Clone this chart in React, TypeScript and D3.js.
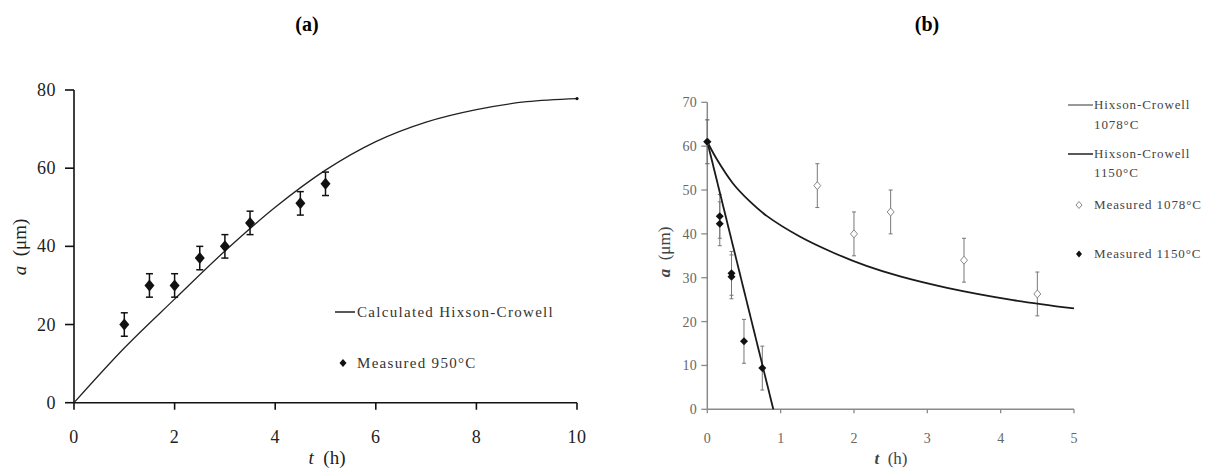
import React from 'react';
import * as d3 from 'd3';

// ---------- Panel (a) data ----------
const aCurveT = [0, 1, 2, 3, 4, 5, 6, 7, 8, 9, 10];
const aCurveV = [0, 14, 26.5, 38.8, 50, 59.5, 66.8, 71.8, 75, 77, 77.8];
const aMeasT = [1, 1.5, 2, 2.5, 3, 3.5, 4.5, 5];
const aMeasV = [20, 30, 30, 37, 40, 46, 51, 56];
const aErr = 3;
const aXTicks = [0, 2, 4, 6, 8, 10];
const aYTicks = [0, 20, 40, 60, 80];

// ---------- Panel (b) data ----------
const bCurve1078T = [0, 0.13, 0.35, 0.58, 0.81, 1.26, 1.72, 2.17, 2.63, 3.27, 4.17, 5];
const bCurve1078V = [61, 57, 51.5, 47.4, 44.1, 39.4, 35.7, 32.7, 30.3, 27.7, 24.9, 23.0];
const bCurve1150T = [0, 0.9];
const bCurve1150V = [61, 0];
const bMeas1078T = [0, 1.5, 2, 2.5, 3.5, 4.5];
const bMeas1078V = [61, 51, 40, 45, 34, 26.3];
const bMeas1150T = [0, 0.17, 0.17, 0.33, 0.33, 0.5, 0.75];
const bMeas1150V = [61, 44, 42.3, 31, 30.2, 15.5, 9.4];
const bErr = 5;
const bXTicks = [0, 1, 2, 3, 4, 5];
const bYTicks = [0, 10, 20, 30, 40, 50, 60, 70];

const SERIF = '"Liberation Serif", "Times New Roman", serif';

function diamondPath(cx: number, cy: number, w: number, h: number) {
  return `M${cx},${cy - h / 2}L${cx + w / 2},${cy}L${cx},${cy + h / 2}L${cx - w / 2},${cy}Z`;
}

function PanelA() {
  const x = d3.scaleLinear().domain([0, 10]).range([74, 577]);
  const y = d3.scaleLinear().domain([0, 80]).range([402.7, 90]);
  const pts = aCurveT.map((t, i) => [t, aCurveV[i]] as [number, number]);
  const line = d3
    .line<[number, number]>()
    .x((d) => x(d[0]))
    .y((d) => y(d[1]))
    .curve(d3.curveMonotoneX);
  const col = '#111';
  return (
    <g fontFamily={SERIF}>
      <text x={307} y={31} textAnchor="middle" fontSize={20} fontWeight="bold" fill="#000">(a)</text>
      {/* axes */}
      <line x1={x(0)} x2={x(10)} y1={y(0)} y2={y(0)} stroke={col} strokeWidth={1.6} />
      <line x1={x(0)} x2={x(0)} y1={y(0)} y2={y(80)} stroke={col} strokeWidth={1.6} />
      {aXTicks.map((t) => (
        <g key={'ax' + t}>
          <line x1={x(t)} x2={x(t)} y1={y(0)} y2={y(0) + 7} stroke={col} strokeWidth={1.6} />
          <text x={x(t)} y={443} textAnchor="middle" fontSize={18} letterSpacing={0.5} fill="#222">{t}</text>
        </g>
      ))}
      {aYTicks.map((v) => (
        <g key={'ay' + v}>
          <line x1={x(0) - 9} x2={x(0)} y1={y(v)} y2={y(v)} stroke={col} strokeWidth={1.6} />
          <text x={56} y={y(v) + 6} textAnchor="end" fontSize={18} letterSpacing={0.5} fill="#222">{v}</text>
        </g>
      ))}
      <text x={327} y={464} textAnchor="middle" fontSize={19} fill="#222">
        <tspan fontStyle="italic">t</tspan>
        <tspan>{'\u00a0\u00a0(h)'}</tspan>
      </text>
      <text transform="translate(26,247) rotate(-90)" textAnchor="middle" fontSize={19} fill="#222">
        <tspan fontStyle="italic">a</tspan>
        <tspan>{'\u00a0\u00a0(\u03bcm)'}</tspan>
      </text>
      {/* curve */}
      <path d={line(pts) || ''} fill="none" stroke="#222" strokeWidth={1.3} />
      <circle cx={x(10)} cy={y(aCurveV[aCurveV.length - 1])} r={1.6} fill="#111" />
      {/* measured */}
      {aMeasT.map((t, i) => {
        const cx = x(t);
        const v = aMeasV[i];
        return (
          <g key={'am' + i}>
            <line x1={cx} x2={cx} y1={y(v + aErr)} y2={y(v - aErr)} stroke="#111" strokeWidth={1.5} />
            <line x1={cx - 3.5} x2={cx + 3.5} y1={y(v + aErr)} y2={y(v + aErr)} stroke="#111" strokeWidth={1.5} />
            <line x1={cx - 3.5} x2={cx + 3.5} y1={y(v - aErr)} y2={y(v - aErr)} stroke="#111" strokeWidth={1.5} />
            <path d={diamondPath(cx, y(v), 10, 12)} fill="#111" />
          </g>
        );
      })}
      {/* legend */}
      <line x1={335} x2={355} y1={312} y2={312} stroke="#111" strokeWidth={1.4} />
      <text x={357} y={317} fontSize={15} letterSpacing={1.3} fill="#333">Calculated Hixson-Crowell</text>
      <path d={diamondPath(343, 363, 7, 8)} fill="#111" />
      <text x={357} y={368} fontSize={15} letterSpacing={1.3} fill="#333">Measured 950°C</text>
    </g>
  );
}

function PanelB() {
  const x = d3.scaleLinear().domain([0, 5]).range([707.3, 1074]);
  const y = d3.scaleLinear().domain([0, 70]).range([409.3, 102.3]);
  const line = d3
    .line<[number, number]>()
    .x((d) => x(d[0]))
    .y((d) => y(d[1]))
    .curve(d3.curveCatmullRom.alpha(0.5));
  const p1078 = bCurve1078T.map((t, i) => [t, bCurve1078V[i]] as [number, number]);
  const p1150 = bCurve1150T.map((t, i) => [t, bCurve1150V[i]] as [number, number]);
  const axCol = '#8a8a8a';
  const errCol = '#777';
  return (
    <g fontFamily={SERIF}>
      <text x={927} y={31} textAnchor="middle" fontSize={20} fontWeight="bold" fill="#000">(b)</text>
      <line x1={x(0)} x2={x(5)} y1={y(0)} y2={y(0)} stroke={axCol} strokeWidth={1.5} />
      <line x1={x(0)} x2={x(0)} y1={y(0)} y2={y(70)} stroke={axCol} strokeWidth={1.5} />
      {bXTicks.map((t) => (
        <g key={'bx' + t}>
          <line x1={x(t)} x2={x(t)} y1={y(0)} y2={y(0) + 4} stroke={axCol} strokeWidth={1.3} />
          <text x={x(t)} y={443} textAnchor="middle" fontSize={14} fill="#666">{t}</text>
        </g>
      ))}
      {bYTicks.map((v) => (
        <g key={'by' + v}>
          <line x1={x(0) - 6} x2={x(0)} y1={y(v)} y2={y(v)} stroke={axCol} strokeWidth={1.3} />
          <text x={697} y={y(v) + 5} textAnchor="end" fontSize={14} letterSpacing={0.3} fill="#666">{v}</text>
        </g>
      ))}
      <text x={891} y={464} textAnchor="middle" fontSize={17} fill="#444">
        <tspan fontStyle="italic" fontWeight="bold">t</tspan>
        <tspan>{'\u00a0\u00a0(h)'}</tspan>
      </text>
      <text transform="translate(670,252) rotate(-90)" textAnchor="middle" fontSize={17} fill="#444">
        <tspan fontStyle="italic" fontWeight="bold">a</tspan>
        <tspan>{'\u00a0\u00a0(\u03bcm)'}</tspan>
      </text>
      {/* error bars 1078 */}
      {bMeas1078T.map((t, i) => {
        const cx = x(t);
        const v = bMeas1078V[i];
        return (
          <g key={'be1' + i}>
            <line x1={cx} x2={cx} y1={y(v + bErr)} y2={y(v - bErr)} stroke={errCol} strokeWidth={1} />
            <line x1={cx - 2} x2={cx + 2} y1={y(v + bErr)} y2={y(v + bErr)} stroke={errCol} strokeWidth={1} />
            <line x1={cx - 2} x2={cx + 2} y1={y(v - bErr)} y2={y(v - bErr)} stroke={errCol} strokeWidth={1} />
          </g>
        );
      })}
      {bMeas1150T.map((t, i) => {
        const cx = x(t);
        const v = bMeas1150V[i];
        return (
          <g key={'be2' + i}>
            <line x1={cx} x2={cx} y1={y(v + bErr)} y2={y(v - bErr)} stroke={errCol} strokeWidth={1} />
            <line x1={cx - 2} x2={cx + 2} y1={y(v + bErr)} y2={y(v + bErr)} stroke={errCol} strokeWidth={1} />
            <line x1={cx - 2} x2={cx + 2} y1={y(v - bErr)} y2={y(v - bErr)} stroke={errCol} strokeWidth={1} />
          </g>
        );
      })}
      {/* curves */}
      <path d={line(p1078) || ''} fill="none" stroke="#1a1a1a" strokeWidth={1.8} />
      <path d={line(p1150) || ''} fill="none" stroke="#1a1a1a" strokeWidth={1.8} />
      {/* markers */}
      {bMeas1078T.map((t, i) => (
        <path key={'bo' + i} d={diamondPath(x(t), y(bMeas1078V[i]), 7, 8)} fill="#fff" stroke="#888" strokeWidth={1} />
      ))}
      {bMeas1150T.map((t, i) => (
        <path key={'bf' + i} d={diamondPath(x(t), y(bMeas1150V[i]), 8, 8)} fill="#111" />
      ))}
      {/* legend */}
      <line x1={1068} x2={1093} y1={105} y2={105} stroke="#777" strokeWidth={1.5} />
      <text x={1094} y={109} fontSize={13} letterSpacing={0.9} fill="#444">Hixson-Crowell</text>
      <text x={1094} y={129} fontSize={13} letterSpacing={0.9} fill="#444">1078°C</text>
      <line x1={1068} x2={1093} y1={154} y2={154} stroke="#222" strokeWidth={1.5} />
      <text x={1094} y={158} fontSize={13} letterSpacing={0.9} fill="#444">Hixson-Crowell</text>
      <text x={1094} y={177} fontSize={13} letterSpacing={0.9} fill="#444">1150°C</text>
      <path d={diamondPath(1079, 205, 6, 7)} fill="#fff" stroke="#888" strokeWidth={1} />
      <text x={1094} y={209} fontSize={13} letterSpacing={0.9} fill="#444">Measured 1078°C</text>
      <path d={diamondPath(1079, 254, 6, 7)} fill="#111" />
      <text x={1094} y={258} fontSize={13} letterSpacing={0.9} fill="#444">Measured 1150°C</text>
    </g>
  );
}

export default function App() {
  return (
    <svg
      width={1216}
      height={473}
      viewBox="0 0 1216 473"
      style={{ position: 'absolute', left: 0, top: 0, background: '#fff', display: 'block' }}
    >
      <rect width={1216} height={473} fill="#fff" />
      <PanelA />
      <PanelB />
    </svg>
  );
}
